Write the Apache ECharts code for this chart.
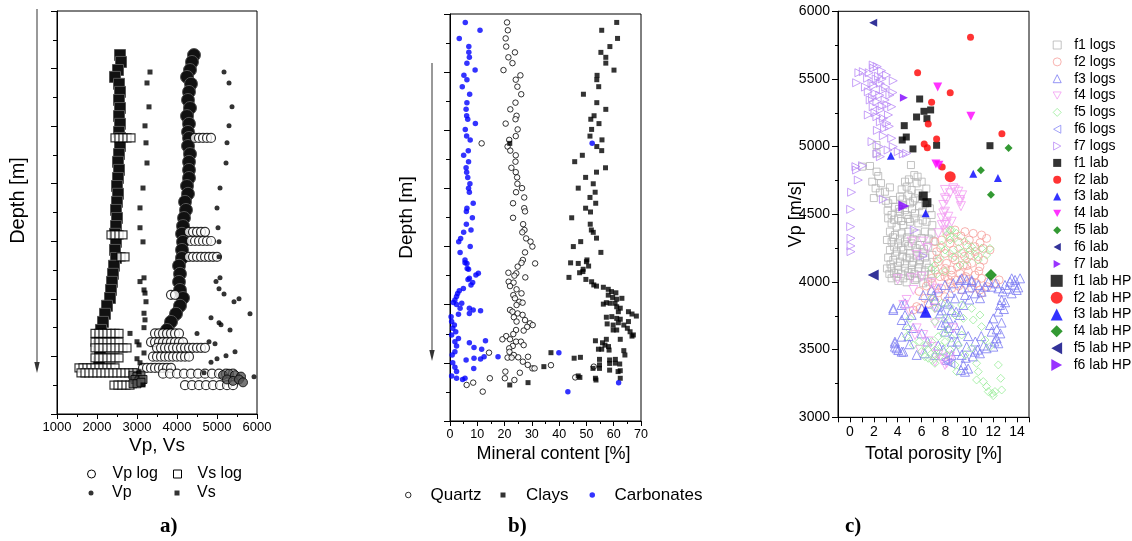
<!DOCTYPE html>
<html><head><meta charset="utf-8">
<script src="https://cdn.jsdelivr.net/npm/echarts@6/dist/echarts.min.js"></script>
<style>html,body{margin:0;padding:0;background:#fff}#c{width:1132px;height:541px}</style>
</head><body><div id="c"></div>
<script>
// ---------------- Panel a: [velocity, depth unit] ----------------
const vsLogBand = [[2575,1.53],[2600,1.77],[2525,2.05],[2450,2.29],[2550,2.53],[2575,2.81],[2550,3.09],[2575,3.37],[2550,3.65],[2575,3.92],[2550,4.2],[2575,4.41],[2575,4.69],[2550,4.97],[2525,5.24],[2550,5.52],[2525,5.8],[2500,6.08],[2525,6.35],[2500,6.63],[2475,6.91],[2500,7.19],[2475,7.47],[2450,7.74],[2475,8.02],[2450,8.3],[2475,8.58],[2425,8.85],[2400,9.13],[2375,9.41],[2350,9.69],[2325,9.97],[2250,10.24],[2200,10.52],[2150,10.8],[2100,11.08],[2075,11.35],[2050,11.63],[2075,11.91],[2050,12.19]];
const vsLogRows = [[2450,4.41],[2550,4.41],[2650,4.41],[2750,4.41],[2850,4.41],
 [2350,7.78],[2450,7.78],[2550,7.78],[2650,7.78],[2600,8.54],[2700,8.54],
 [1950,11.2],[2050,11.2],[2150,11.2],[2250,11.2],[2350,11.2],[2450,11.2],[2550,11.2],
 [1950,11.5],[2050,11.5],[2150,11.5],[2250,11.5],[2350,11.5],[2450,11.5],[2550,11.5],
 [1950,11.7],[2050,11.7],[2150,11.7],[2250,11.7],[2350,11.7],[2450,11.7],[2550,11.7],[2650,11.7],[2750,11.7],
 [1950,12.05],[2050,12.05],[2150,12.05],[2250,12.05],[2350,12.05],[2450,12.05],[2550,12.05],
 [1550,12.4],[1650,12.4],[1750,12.4],[1850,12.4],[1950,12.4],[2050,12.4],[2150,12.4],[2250,12.4],[2350,12.4],[2450,12.4],
 [1600,12.57],[1700,12.57],[1800,12.57],[1900,12.57],[2000,12.57],[2100,12.57],[2200,12.57],[2300,12.57],[2400,12.57],[2500,12.57],[2600,12.57],[2700,12.57],[2800,12.57],[2900,12.57],[3000,12.57],
 [2425,13.0],[2525,13.0],[2625,13.0],[2725,13.0],[2825,13.0]];
const vsLogDense = [[2900,12.65],[3000,12.7],[3100,12.65],[2950,12.8],[3050,12.85],[3150,12.8],[2900,12.95],[3000,12.95],[3100,12.9]];
const vpLogBand = [[4425,1.53],[4375,1.77],[4325,2.05],[4250,2.29],[4350,2.53],[4300,2.81],[4275,3.09],[4325,3.37],[4250,3.65],[4300,3.92],[4275,4.2],[4300,4.41],[4275,4.69],[4325,4.97],[4300,5.24],[4300,5.52],[4300,5.8],[4250,6.08],[4275,6.35],[4200,6.63],[4225,6.91],[4175,7.19],[4150,7.47],[4125,7.74],[4150,8.02],[4125,8.3],[4125,8.58],[4050,8.85],[4075,9.13],[4050,9.41],[4075,9.69],[4150,9.97],[4075,10.24],[3975,10.52],[3850,10.8],[3750,11.08],[3650,11.28]];
const vpLogRows = [[4450,4.41],[4550,4.41],[4650,4.41],[4750,4.41],[4850,4.41],
 [4300,7.67],[4400,7.67],[4500,7.67],[4600,7.67],[4700,7.67],
 [4350,7.99],[4450,7.99],[4550,7.99],[4650,7.99],[4750,7.99],[4850,7.99],
 [4300,8.54],[4400,8.54],[4500,8.54],[4600,8.54],[4700,8.54],[4800,8.54],[4900,8.54],[5000,8.54],
 [3850,9.86],[3950,9.86],
 [3450,11.2],[3550,11.2],[3650,11.2],[3750,11.2],[3850,11.2],[3950,11.2],[4050,11.2],
 [3350,11.5],[3450,11.5],[3550,11.5],[3650,11.5],[3750,11.5],[3850,11.5],[3950,11.5],[4050,11.5],[4150,11.5],
 [3500,11.7],[3600,11.7],[3700,11.7],[3800,11.7],[3900,11.7],[4000,11.7],[4100,11.7],[4200,11.7],[4300,11.7],[4400,11.7],[4500,11.7],[4600,11.7],[4700,11.7],
 [3400,12.01],[3500,12.01],[3600,12.01],[3700,12.01],[3800,12.01],[3900,12.01],[4000,12.01],[4100,12.01],[4200,12.01],[4300,12.01],
 [3150,12.4],[3250,12.4],[3350,12.4],[3450,12.4],[3550,12.4],[3650,12.4],[3750,12.4],[3850,12.4],
 [3650,12.6],[3825,12.6],[4000,12.6],[4175,12.6],[4350,12.6],[4525,12.6],[4700,12.6],[4875,12.6],[5050,12.6],[5225,12.6],[5400,12.6],
 [4200,13.0],[4375,13.0],[4550,13.0],[4725,13.0],[4900,13.0],[5075,13.0],[5250,13.0],[5400,13.0]];
const vpLogDense = [[5150,12.65],[5300,12.6],[5450,12.65],[5600,12.7],[5250,12.8],[5400,12.85],[5550,12.8],[5650,12.9]];
const vpLab = [[5175,2.12],[5300,2.5],[5375,3.33],[5300,3.99],[5250,4.58],[5225,5.28],[5075,6.15],[5000,6.84],[5025,7.53],[5050,8.02],[5050,8.54],[5075,9.27],[4975,9.4],[5050,9.65],[5175,9.83],[5425,10.1],[5550,10.0],[5825,10.52],[4850,10.66],[5050,10.83],[5100,10.9],[5325,11.08],[4500,11.2],[4800,11.49],[4950,11.56],[4850,12.2],[5000,12.08],[5225,11.98],[5450,11.84],[4675,12.57],[5925,12.71]];
const vsLab = [[3325,2.12],[3250,2.5],[3300,3.33],[3200,3.99],[3225,4.58],[3250,5.28],[3150,6.15],[3075,6.84],[3075,7.53],[3150,8.02],[3175,9.27],[3075,9.4],[3175,9.69],[3200,9.8],[3225,10.1],[3175,10.5],[3200,10.73],[3175,11.0],[2825,11.2],[3000,11.49],[3050,11.6],[3175,11.88],[3000,12.08],[3075,12.22],[3050,12.53],[3150,12.99]];
const velTicks = [1000,6000,1000];

// ---------------- Panel b: [percent, depth unit] ----------------
const quartz = [[20.9,0.29],[21.2,0.56],[20.4,0.84],[20.6,1.12],[23.8,1.32],[21.4,1.49],[22.9,1.69],[19.6,1.93],[25.8,2.11],[24.1,2.26],[24.7,2.5],[26.1,2.76],[24.0,3.05],[22.1,3.28],[24.4,3.5],[24.0,3.62],[20.4,3.77],[24.8,3.97],[24.1,4.2],[21.7,4.33],[11.6,4.45],[21.1,4.56],[22.1,4.7],[24.1,4.86],[24.0,5.08],[22.5,5.29],[24.1,5.44],[24.6,5.62],[24.7,5.84],[26.4,5.99],[24.2,6.13],[27.2,6.31],[23.1,6.51],[27.2,6.68],[27.5,6.79],[23.1,7.01],[26.8,7.23],[27.3,7.43],[26.5,7.51],[27.9,7.72],[29.5,7.83],[30.2,8.0],[27.5,8.2],[26.7,8.46],[31.2,8.58],[24.8,8.69],
 [26.2,8.56],[24.3,8.92],[21.4,8.9],[27.6,9.06],[23.6,9.0],[21.5,9.21],[23.3,9.24],[22,9.36],[24.4,9.47],[26.2,9.61],[23.2,9.67],[23.8,9.78],[25.4,9.9],[26.6,9.93],[24.4,10.01],[22,10.18],[22.9,10.24],[24.8,10.3],[26.6,10.35],[23.4,10.43],[24.4,10.58],[27.5,10.53],[29.3,10.64],[30.3,10.7],[28.3,10.76],[24.2,10.87],[27,10.89],[23.2,11.01],[20.6,11.08],[19.2,11.19],[22,11.19],[24.2,11.27],[26,11.27],[23,11.42],[27,11.39],[21.7,11.5],[14.3,11.65],[21.8,11.62],[23.4,11.73],[21.1,11.82],[22.6,11.82],[25,11.81],[28.6,11.79],[26.7,11.96],[28.5,12.07],[30.2,12.19],[31,12.19],[25.6,12.34],[37,12.08],[20.3,12.3],[20.1,12.53],[23.6,12.59],[14.6,12.53],[45.9,12.5],[52.7,12.13],[8.5,12.68],[6.1,12.76],[12.0,12.99]];
const clays = [[61.1,0.29],[55.6,0.56],[61.4,0.84],[58.6,1.12],[55.3,1.32],[57.1,1.49],[57.1,1.69],[60.1,1.93],[53.9,2.11],[53.8,2.26],[54.5,2.5],[48.9,2.76],[53.8,3.05],[57.1,3.28],[52.8,3.5],[51.6,3.62],[54.6,3.77],[51.9,3.97],[51.3,4.2],[55.7,4.33],[21.9,4.45],[53.8,4.56],[55.6,4.7],[48.5,4.86],[45.7,5.08],[57.0,5.29],[53.7,5.44],[49.7,5.62],[52.5,5.84],[47.0,5.99],[53.2,6.13],[51.3,6.31],[53.4,6.51],[49.7,6.68],[51.5,6.81],[44.6,7.01],[51.4,7.23],[51.8,7.43],[52.5,7.51],[53.7,7.71],[47.9,7.83],[45.2,8.0],[55.3,8.2],[44.2,8.56],[47.0,8.58],[50.2,8.46],[50.8,8.67],[48.8,8.78],
 [50,8.52],[47.5,8.9],[48.7,8.86],[43.6,9.06],[49.8,9.13],[51.9,9.21],[52.7,9.32],[53.7,9.36],[56.2,9.4],[58,9.47],[59.2,9.55],[60.8,9.59],[58,9.67],[59.6,9.75],[61.1,9.81],[63,9.78],[57.3,9.93],[56.2,9.98],[58.7,9.95],[60.5,9.95],[61.1,10.07],[62.4,10.12],[61.7,10.24],[65.4,10.24],[66.7,10.32],[68.3,10.39],[57.3,10.43],[59.3,10.41],[61.1,10.47],[62.4,10.5],[61.7,10.62],[65.4,10.58],[57.6,10.66],[59.8,10.7],[63.7,10.7],[59.8,10.87],[61.1,10.87],[65,10.81],[66,10.93],[66.7,11.08],[67.2,11.04],[62.4,11.19],[53.3,11.24],[57.3,11.19],[55.9,11.31],[56.8,11.39],[58.1,11.44],[54.4,11.53],[55.6,11.53],[58.3,11.56],[63.7,11.58],[64.1,11.73],[37,11.65],[45.5,11.84],[47.8,11.81],[54.8,11.88],[58.5,11.9],[60.6,11.88],[34.4,12.13],[52.4,12.19],[54.8,12.07],[54.8,12.19],[58.5,12.02],[60.6,12.01],[62.2,12.04],[58.5,12.25],[61.6,12.3],[62.4,12.27],[47,12.45],[47.6,12.5],[53.3,12.53],[53.5,12.59],[62.4,12.53],[21.9,12.76],[28.6,12.68]];
const carbonates = [[5.6,0.29],[11,0.56],[3.4,0.84],[6.9,1.12],[6.9,1.32],[7.1,1.49],[6.2,1.69],[9.2,1.93],[5.1,2.11],[6.2,2.26],[4.5,2.5],[7.2,2.76],[6.2,3.05],[5.9,3.28],[6.1,3.5],[6.5,3.62],[9.3,3.77],[5.6,3.97],[6.1,4.2],[7.4,4.33],[52.1,4.45],[6.7,4.7],[5.0,4.86],[6.8,5.08],[5.9,5.29],[6.1,5.44],[6.5,5.62],[7.3,5.84],[6.8,5.99],[7.1,6.13],[8.5,6.51],[6.2,6.68],[6.0,6.79],[8.2,7.01],[6.0,7.23],[7.7,7.43],[5.0,7.51],[3.9,7.72],[3.2,7.83],[7.4,8.0],[3.7,8.2],[5.5,8.46],[6.2,8.58],[6.3,8.75],
 [5.5,8.56],[6.8,8.78],[10.4,8.92],[9.5,8.98],[7.1,9.09],[6.6,9.13],[8.3,9.24],[7.7,9.32],[4.9,9.44],[3.4,9.52],[2.8,9.61],[2.4,9.72],[1.8,9.84],[1.2,9.92],[2.4,9.99],[4.3,9.95],[3.7,10.12],[7.1,10.12],[8.5,10.18],[11.2,10.21],[7.1,10.3],[3.1,10.33],[0.4,10.41],[0.6,10.58],[1.6,10.7],[1.0,10.81],[2.1,10.93],[0.6,11.04],[3.1,11.16],[1.8,11.27],[13,11.24],[7.1,11.31],[2.4,11.42],[8.8,11.47],[11.6,11.53],[1.8,11.62],[0.8,11.73],[12.5,11.79],[11.2,11.87],[8.8,11.84],[5.9,11.9],[17.6,11.79],[39.9,11.65],[1.0,12.0],[1.8,12.15],[2.4,12.3],[8.7,12.19],[0.6,12.45],[2.4,12.53],[4.6,12.57],[5.5,12.53],[61.8,12.68],[43.2,12.99]];

// ---------------- Panel c: [porosity %, Vp m/s] ----------------
const f1Logs = [[5.11,4864],[1.68,4857],[1.03,4852],[2.23,4815],[2.37,4783],[1.87,4741],[2.15,4692],[2.51,4660],[2.93,4667],[3.35,4699],[3.63,4606],[3.21,4581],[3.16,4527],[3.77,4556],[4.19,4630],[4.33,4684],[4.61,4741],[4.94,4758],[5.39,4790],[5.67,4778],[5.59,4729],[6.01,4741],[4.75,4704],[5.17,4680],[5.73,4655],[5.45,4618],[5.03,4581],[4.47,4569],[4.19,4519],[3.49,4495],[4.05,4470],[4.75,4495],[5.45,4507],[6.06,4519],[6.7,4544],[6.84,4495],[3.49,4433],[3.91,4409],[4.47,4421],[5.03,4445],[5.73,4433],[6.42,4445],[3.35,4372],[3.77,4347],[4.33,4359],[4.89,4372],[5.59,4359],[6.28,4372],[6.84,4359],[3.49,4298],[4.05,4285],[4.61,4298],[5.17,4285],[5.87,4273],[6.56,4261],[3.35,4236],[3.91,4224],[4.47,4236],[5.03,4211],[5.59,4224],[6.14,4211],[3.63,4162],[4.19,4150],[4.75,4175],[5.31,4150],[5.87,4162],[6.42,4138],[3.49,4101],[4.05,4088],[4.61,4101],[5.17,4088],[5.73,4101],[6.28,4076],[3.91,4039],[4.47,4027],[5.03,4044],[5.59,4027],[3.49,4027],[4.05,4007],[4.75,3997],[5.45,4015],[6.14,3990],[6.56,4002],[2.23,5012],[2.23,4950],
 [3.7,4460],[4.3,4450],[4.9,4465],[5.4,4470],[6.1,4455],[3.6,4330],[4.2,4320],[4.8,4330],[5.3,4315],[6.0,4325],[6.6,4320],[3.7,4260],[4.3,4255],[4.9,4265],[5.5,4250],[6.2,4245],[3.8,4195],[4.4,4190],[5.0,4180],[5.6,4190],[6.3,4180],[3.4,4130],[4.0,4120],[4.6,4135],[5.2,4125],[5.8,4130],[6.6,4105],[3.7,4065],[4.3,4060],[4.9,4070],[5.4,4060],[6.0,4050],[4.1,4540],[4.6,4530],[5.2,4540],[5.8,4560],[6.3,4580],[4.4,4610],[4.9,4640],[5.3,4600],[6.4,4690],[3.0,4600],[2.6,4730],[2.0,4620],[3.3,4060],[3.1,4100],[3.2,4180],[3.1,4310],[3.2,4470],[6.9,4420],[7.0,4300],[6.9,4200],[6.8,4060]];
const f2Logs = [[8.1,4372],[8.8,4384],[9.64,4372],[10.33,4359],[11.03,4347],[11.45,4322],[7.12,4298],[7.68,4310],[8.38,4285],[9.08,4298],[9.78,4273],[10.47,4261],[11.17,4248],[11.73,4236],[7.26,4224],[7.96,4211],[8.66,4236],[9.36,4211],[10.06,4199],[10.75,4187],[7.4,4150],[8.1,4138],[8.8,4162],[9.5,4125],[10.2,4138],[10.89,4113],[7.12,4088],[7.82,4076],[8.52,4088],[9.22,4064],[9.92,4076],[10.47,4051],[6.84,4027],[7.54,4039],[8.24,4019],[7.96,4039],[8.8,4015],[9.5,4027],[10.2,4002],[11.03,4027],[11.59,4002],[8.52,3953],[7.68,3953],[6.84,3928],[6.28,3879],[5.59,3818],[5.31,3793],[5.87,3805],[6.56,3842],[7.12,3855],[7.96,3891],[9.36,3941],[10.2,3953],[10.89,3941],[11.0,3916],[11.5,3965],[12.5,4015],[12.2,3990],
 [8.4,4330],[9.3,4340],[10.0,4310],[10.9,4290],[7.6,4250],[8.6,4180],[9.6,4190],[10.5,4225],[8.0,4100],[9.0,4110],[9.8,4120],[10.8,4080],[7.3,4170],[11.2,4160],[8.5,4050],[9.7,4040],[6.9,3990],[5.8,3930],[6.4,3970],[7.4,3920],[8.4,3990],[9.1,3970],[10.6,3990]];
const f3Logs = [[3.63,3805],[4.33,3830],[4.61,3842],[6.14,3904],[6.84,3941],[7.4,3953],[7.96,3978],[8.66,3990],[9.22,4015],[9.78,4015],[10.2,4002],[10.75,3978],[11.31,3965],[11.87,3965],[12.43,3953],[12.99,3978],[13.41,4002],[13.83,4015],[13.97,3941],[13.55,3916],[12.71,3867],[12.57,3830],[12.43,3781],[12.01,3731],[11.73,3682],[11.87,3633],[12.29,3584],[12.43,3547],[12.01,3522],[11.45,3510],[10.89,3473],[10.47,3485],[9.78,3522],[9.36,3461],[9.5,3387],[9.64,3337],[8.52,3461],[8.1,3424],[7.54,3768],[7.68,3682],[8.24,3731],[8.52,3793],[8.8,3682],[7.96,3633],[8.52,3559],[9.36,3645],[9.22,3756],[7.4,3818],[7.12,3867],[7.96,3855],[8.8,3879],[9.64,3904],[10.47,3916],[11.03,3928],[3.77,3547],[4.05,3497],[4.47,3485],[3.77,3522],[4.33,3596],[4.75,3682],[4.33,3719],[5.17,3756],[6.01,3805],[5.59,3461],[6.28,3473],[7.12,3461],[3.77,3559],[3.91,3510],[4.33,3485],[3.63,3793],[4.61,3756],[9.36,4027],[10.2,4014],[13.55,4027],[14.25,4027],
 [13.2,3950],[13.8,3980],[14.1,3960],[12.8,3930],[12.2,3990],[11.6,4000],[13.0,3850],[12.9,3800],[12.7,3700],[12.3,3650],[12.6,3620],[12.1,3560],[11.2,3530],[10.7,3500],[10.3,3450],[9.9,3360],[9.3,3350],[9.7,3440],[8.9,3490],[8.7,3620],[8.3,3660],[8.0,3700],[7.7,3790],[8.2,3840],[8.9,3780],[9.5,3830],[10.0,3870],[10.9,3880],[9.0,3560],[9.9,3600],[10.5,3560],[11.0,3600],[8.4,3920],[9.4,3950],[10.0,3960],[7.0,3900],[6.6,3840],[5.0,3540],[4.9,3600],[5.3,3660],[6.0,3620],[6.5,3560],[7.4,3530],[7.8,3500]];
const f4Logs = [[7.96,4680],[8.38,4655],[8.66,4692],[9.08,4667],[9.22,4593],[8.1,4606],[7.82,4569],[7.96,4519],[8.24,4482],[7.68,4470],[7.96,4421],[8.52,4445],[9.21,4606],[8.79,4680],[7.96,4618],[7.82,4507],[8.1,4433],[5.17,4298],[6.14,4298],[4.75,3867],[4.47,3830],[5.59,3657],[6.14,3608],[5.45,3608],[5.87,3497],[7.12,3805],[7.12,3694],[8.66,3657],[7.4,3461],[7.68,3424],[7.96,3387],[7.12,3411],[8.38,3448],[5.31,3941],[5.17,4027],[6.0,4039],
 [7.7,4420],[8.0,4380],[7.4,4360],[6.5,4250],[5.6,4200],[6.8,3990],[7.3,3950],[8.4,3420],[8.1,3400],[6.6,3560],[6.9,3520],[5.0,3780],[9.4,4640],[9.3,4560],[4.0,4020]];
const f5Logs = [[8.52,4384],[8.1,4347],[8.8,4322],[10.2,4261],[11.03,4248],[11.73,4248],[11.45,4199],[7.12,4125],[6.84,4101],[7.54,4175],[8.38,4211],[9.08,4248],[9.78,4162],[9.22,4125],[7.96,4236],[8.8,4187],[10.06,4236],[10.75,4162],[8.38,4310],[7.68,4273],[8.37,4384],[8.93,4359],[9.6,4300],[10.5,4200],[9.5,4220],[7.3,4060],[8.0,4080],
 [6.84,3879],[7.12,3805],[7.68,3842],[8.38,3818],[9.36,3830],[10.2,3805],[10.89,3756],[11.03,3670],[10.33,3719],[9.5,3731],[8.8,3756],[7.96,3731],[7.12,3707],[5.03,3731],[4.89,3657],[4.75,3596],[5.31,3534],[6.0,3485],[6.56,3436],[7.12,3399],[6.84,3559],[7.4,3596],[7.96,3559],[8.52,3584],[7.68,3522],[8.38,3497],[9.08,3534],[7.12,3497],[6.28,3448],[7.12,3461],[8.8,3387],[8.94,3337],[9.64,3461],[10.2,3510],[10.61,3399],[10.75,3337],[10.61,3276],[11.17,3264],[11.45,3227],[11.59,3190],[11.93,3177],[12.15,3190],[12.43,3387],[12.63,3288],[12.71,3202],[11.73,3522],[11.31,3571],[9.36,3608],
 [6.5,3500],[6.9,3420],[7.5,3450],[8.1,3460],[7.8,3620],[8.2,3650],[6.3,3530],[5.8,3560],[12.0,3160]];
const f6Logs = [[8.2,3405],[8.45,3395],[8.0,3425]];
const f7Logs = [[0.56,5472],[0.75,5546],[1.12,5554],[1.62,5546],[1.95,5603],[2.29,5591],[2.65,5561],[3.63,5487],[1.48,5505],[1.85,5468],[2.55,5468],[3.07,5529],[1.54,5406],[2.1,5394],[2.8,5418],[3.35,5381],[1.7,5345],[2.26,5332],[2.95,5345],[3.5,5295],[1.95,5295],[2.55,5271],[1.54,5234],[2.26,5221],[2.8,5209],[3.23,5234],[2.55,5184],[3.1,5172],[2.9,5135],[3.5,5062],[1.85,5037],[2.46,5000],[2.27,4946],[2.55,4926],[3.63,5000],[3.2,4975],[4.05,4963],[4.47,4946],[4.75,4950],[1.06,4859],[0.56,4827],[0.7,4753],[0.14,4663],[0.06,4537],[0.06,4409],[0.09,4323],[0.09,4266],[0.09,4224],[0.5,4852],[5.39,4384],[2.8,4611],[6.14,4192],
 [2.0,5580],[2.4,5520],[2.0,5450],[2.7,5500],[3.0,5440],[1.9,5360],[2.5,5380],[3.1,5310],[2.1,5250],[2.7,5300],[3.3,5150],[2.3,5120],[2.8,5080],[3.6,5400],[2.2,5500],[1.3,5440]];
const f1Lab = [[5.84,5352],[4.55,5155],[4.72,5071],[4.38,5049],[5.58,5219],[6.2,5261],[6.76,5271],[6.45,5207],[5.28,4983],[7.26,5010],[11.73,5007]];
const f2Lab = [[10.1,5808],[5.67,5546],[8.4,5399],[6.84,5328],[6.56,5167],[7.26,5056],[12.73,5096],[6.22,5020],[6.48,4992],[7.73,4849]];
const f3Lab = [[3.43,4933],[10.33,4800],[12.4,4768],[6.34,4507]];
const f4Lab = [[7.35,5441],[10.13,5224],[7.2,4872],[7.45,4862]];
const f5Lab = [[13.29,4990],[10.97,4825],[11.81,4645]];
const f6Lab = [[1.95,5916]];
const f7Lab = [[4.52,5362]];
const f1LabHP = [[6.14,4635],[6.45,4586]];
const f2LabHP = [[8.4,4778]];
const f3LabHP = [[6.34,3780]];
const f4LabHP = [[11.81,4052]];
const f5LabHP = [[1.95,4052]];
const f6LabHP = [[4.52,4561]];

// ---------------- chart ----------------
const FONT = '"Liberation Sans", Arial, sans-serif';
const DOWN = 'path://M0,0L10,0L5,9Z', LEFT = 'path://M9,0L9,10L0,5Z', RIGHT = 'path://M0,0L0,10L9,5Z';
const chart = echarts.init(document.getElementById('c'), null, {renderer: 'canvas'});
const plain = v => String(v);

function axisBase(extra) {
  return Object.assign({
    type: 'value', splitLine: {show: false}, nameMoveOverlap: false,
    axisLine: {show: true, onZero: false, lineStyle: {color: '#000', width: 1}},
    axisTick: {show: true, length: 5, lineStyle: {color: '#000'}},
    axisLabel: {color: '#000', fontSize: 13, fontFamily: FONT},
    nameTextStyle: {color: '#000', fontFamily: FONT},
  }, extra);
}
const openStyle = c => ({color: 'rgba(0,0,0,0)', borderColor: c, borderWidth: 1});
const fill = c => ({color: c, borderWidth: 0});

function sc(name, grid, data, symbol, size, style, z, rot) {
  return {name, type: 'scatter', xAxisIndex: grid, yAxisIndex: grid, data, symbol, symbolSize: size,
    symbolRotate: rot || 0, itemStyle: style, z: z || 2, silent: true, animation: false};
}

const cLogs = [
  ['f1 logs', f1Logs, 'rect', 7, '#b4b4b4'],
  ['f2 logs', f2Logs, 'circle', 8, '#f6a09c'],
  ['f3 logs', f3Logs, 'triangle', 9, '#7b7bf2'],
  ['f4 logs', f4Logs, DOWN, 9, '#f29cf2'],
  ['f5 logs', f5Logs, 'diamond', 8, '#98ec98'],
  ['f6 logs', f6Logs, LEFT, 8, '#8a8af6'],
  ['f7 logs', f7Logs, RIGHT, 8, '#b98af6'],
];
const cLabs = [
  ['f1 lab', f1Lab, 'rect', 7, '#000000'],
  ['f2 lab', f2Lab, 'circle', 7, '#ff0000'],
  ['f3 lab', f3Lab, 'triangle', 8, '#0000ff'],
  ['f4 lab', f4Lab, DOWN, 9, '#ff00ff'],
  ['f5 lab', f5Lab, 'diamond', 8, '#007f00'],
  ['f6 lab', f6Lab, LEFT, 8, '#000080'],
  ['f7 lab', f7Lab, RIGHT, 8, '#7f00ff'],
];
const cHP = [
  ['f1 lab HP', f1LabHP, 'rect', 9, '#000000'],
  ['f2 lab HP', f2LabHP, 'circle', 11, '#ff0000'],
  ['f3 lab HP', f3LabHP, 'triangle', 12, '#0000ff'],
  ['f4 lab HP', f4LabHP, 'diamond', 12, '#007f00'],
  ['f5 lab HP', f5LabHP, LEFT, 11, '#000080'],
  ['f6 lab HP', f6LabHP, RIGHT, 11, '#7f00ff'],
];

const series = [
  {name: 'Vs log', type: 'line', xAxisIndex: 0, yAxisIndex: 0, data: vsLogBand, symbol: 'rect', symbolSize: 11,
   showSymbol: true, showAllSymbol: true, lineStyle: {width: 9, color: '#000'}, itemStyle: {color: '#111', borderColor: '#555', borderWidth: 1}, z: 2, silent: true, animation: false},
  {name: 'Vp log', type: 'line', xAxisIndex: 0, yAxisIndex: 0, data: vpLogBand, symbol: 'circle', symbolSize: 13,
   showSymbol: true, showAllSymbol: true, lineStyle: {width: 11, color: '#000'}, itemStyle: {color: '#111', borderColor: '#555', borderWidth: 1}, z: 2, silent: true, animation: false},
  sc('Vs log', 0, vsLogRows, 'rect', 8, {color: '#fff', borderColor: '#000', borderWidth: 1.2}, 3),
  sc('Vp log', 0, vpLogRows, 'circle', 9, {color: '#fff', borderColor: '#000', borderWidth: 1.2}, 3),
  sc('Vs log', 0, vsLogDense, 'rect', 8, {color: '#555', borderColor: '#000', borderWidth: 1}, 3),
  sc('Vp log', 0, vpLogDense, 'circle', 9, {color: '#555', borderColor: '#000', borderWidth: 1}, 3),
  sc('Vp', 0, vpLab, 'circle', 5, fill('#000'), 4),
  sc('Vs', 0, vsLab, 'rect', 5, fill('#000'), 4),
  sc('Quartz', 1, quartz, 'circle', 5.5, {color: '#fff', borderColor: '#000', borderWidth: 1}, 2),
  sc('Clays', 1, clays, 'rect', 5, fill('#000'), 3),
  sc('Carbonates', 1, carbonates, 'circle', 5.5, fill('#0000ff'), 4),
];
cLogs.forEach(s => series.push(sc(s[0], 2, s[1], s[2], s[3], openStyle(s[4]), 2)));
cLabs.forEach(s => series.push(sc(s[0], 2, s[1], s[2], s[3], fill(s[4]), 4)));
cHP.forEach(s => series.push(sc(s[0], 2, s[1], s[2], s[3], fill(s[4]), 5)));

function leg(left, top, items, size, fontSize, lh, pad) {
  return {left, top, orient: 'vertical', itemWidth: size, itemHeight: size, itemGap: 0, selectedMode: false,
    textStyle: {color: '#000', fontSize, fontFamily: FONT, lineHeight: lh, padding: [0, 0, 0, pad]},
    data: items};
}
const legends = [
  leg(82, 460.5, [{name: 'Vp log', icon: 'circle', itemStyle: {color: '#fff', borderColor: '#000', borderWidth: 1}}], 8, 16, 17, 12),
  leg(168, 460.5, [{name: 'Vs log', icon: 'rect', itemStyle: {color: '#fff', borderColor: '#000', borderWidth: 1}}], 8, 16, 17, 11),
  leg(83.5, 479.5, [{name: 'Vp', icon: 'circle', itemStyle: fill('#000')}], 5, 16, 17, 13.5),
  leg(169.5, 479.5, [{name: 'Vs', icon: 'rect', itemStyle: fill('#000')}], 5, 16, 17, 12.5),
  leg(400, 481, [{name: 'Quartz', icon: 'circle', itemStyle: {color: '#fff', borderColor: '#000', borderWidth: 1}}], 5.5, 17, 18, 14.5),
  leg(495.5, 481, [{name: 'Clays', icon: 'rect', itemStyle: fill('#000')}], 5, 17, 18, 15.5),
  leg(584.5, 481, [{name: 'Carbonates', icon: 'circle', itemStyle: fill('#0000ff')}], 5.5, 17, 18, 14.5),
  leg(1047.7, 31.6, cLogs.map(s => ({name: s[0], icon: s[2], itemStyle: openStyle(s[4])}))
      .concat(cLabs.map(s => ({name: s[0], icon: s[2], itemStyle: fill(s[4])}))), 8, 14, 16.84, 8),
  leg(1045.7, 267.4, cHP.map(s => ({name: s[0], icon: s[2], itemStyle: fill(s[4])})), 12, 14, 16.84, 6),
];

const gridBox = {show: true, borderColor: '#000', borderWidth: 1, backgroundColor: 'rgba(0,0,0,0)'};
const option = {
  backgroundColor: '#fff',
  animation: false,
  textStyle: {fontFamily: FONT},
  grid: [
    Object.assign({left: 57, top: 11, width: 200, height: 403}, gridBox),
    Object.assign({left: 450, top: 14, width: 191, height: 407}, gridBox),
    Object.assign({left: 838, top: 11.3, width: 191, height: 406}, gridBox),
  ],
  xAxis: [
    axisBase({gridIndex: 0, min: velTicks[0], max: velTicks[1], interval: velTicks[2], name: 'Vp, Vs', nameLocation: 'middle', nameGap: 22,
      nameTextStyle: {color: '#000', fontSize: 19, fontFamily: FONT}, minorTick: {show: true, splitNumber: 2, length: 3, lineStyle: {color: '#000'}},
      axisLabel: {color: '#000', fontSize: 13, fontFamily: FONT, margin: 7, formatter: plain}}),
    axisBase({gridIndex: 1, min: 0, max: 70, interval: 10, name: 'Mineral content [%]', nameLocation: 'middle', nameGap: 24,
      nameTextStyle: {color: '#000', fontSize: 18, fontFamily: FONT, padding: [0, 0, 0, 16]}, minorTick: {show: true, splitNumber: 2, length: 3, lineStyle: {color: '#000'}},
      axisLabel: {color: '#000', fontSize: 12.5, fontFamily: FONT, margin: 7, formatter: plain}}),
    axisBase({gridIndex: 2, min: -1, max: 15, interval: 1, name: 'Total porosity [%]', nameLocation: 'middle', nameGap: 28,
      nameTextStyle: {color: '#000', fontSize: 18, fontFamily: FONT},
      axisLabel: {color: '#000', fontSize: 14, fontFamily: FONT, margin: 8, formatter: v => (v >= 0 && v % 2 === 0) ? String(v) : ''}}),
  ],
  yAxis: [
    axisBase({gridIndex: 0, inverse: true, min: 0, max: 14, interval: 2, name: 'Depth [m]', nameLocation: 'middle', nameGap: 29, nameRotate: 90,
      nameTextStyle: {color: '#000', fontSize: 20, fontFamily: FONT, padding: [0, 0, 0, 24]}, axisLabel: {show: false},
      axisTick: {show: true, length: 6, lineStyle: {color: '#000'}}, minorTick: {show: true, splitNumber: 2, length: 4, lineStyle: {color: '#000'}}}),
    axisBase({gridIndex: 1, inverse: true, min: 0, max: 14, interval: 2, name: 'Depth [m]', nameLocation: 'middle', nameGap: 34, nameRotate: 90,
      nameTextStyle: {color: '#000', fontSize: 19, fontFamily: FONT}, axisLabel: {show: false},
      axisTick: {show: true, length: 6, lineStyle: {color: '#000'}}, minorTick: {show: true, splitNumber: 2, length: 4, lineStyle: {color: '#000'}}}),
    axisBase({gridIndex: 2, min: 3000, max: 6000, interval: 500, name: 'Vp [m/s]', nameLocation: 'middle', nameGap: 33, nameRotate: 90,
      nameTextStyle: {color: '#000', fontSize: 18, fontFamily: FONT},
      axisLabel: {color: '#000', fontSize: 14, fontFamily: FONT, margin: 8, formatter: plain},
      axisTick: {show: true, length: 6, lineStyle: {color: '#000'}}, minorTick: {show: true, splitNumber: 2, length: 3, lineStyle: {color: '#000'}}}),
  ],
  legend: legends,
  graphic: [
    {type: 'line', silent: true, shape: {x1: 37, y1: 9, x2: 37, y2: 366}, style: {stroke: '#555', lineWidth: 1.2}},
    {type: 'polygon', silent: true, shape: {points: [[34.3, 362], [39.7, 362], [37, 373]]}, style: {fill: '#333'}},
    {type: 'line', silent: true, shape: {x1: 432, y1: 63, x2: 432, y2: 353}, style: {stroke: '#555', lineWidth: 1.2}},
    {type: 'polygon', silent: true, shape: {points: [[429.3, 350], [434.7, 350], [432, 361]]}, style: {fill: '#333'}},
    {type: 'text', silent: true, left: 160, top: 516, style: {text: 'a)', font: 'bold 21px "Liberation Serif", "Times New Roman", serif', fill: '#000'}},
    {type: 'text', silent: true, left: 508, top: 516, style: {text: 'b)', font: 'bold 21px "Liberation Serif", "Times New Roman", serif', fill: '#000'}},
    {type: 'text', silent: true, left: 845, top: 516, style: {text: 'c)', font: 'bold 21px "Liberation Serif", "Times New Roman", serif', fill: '#000'}},
  ],
  series,
};
chart.setOption(option);
</script>
</body></html>
